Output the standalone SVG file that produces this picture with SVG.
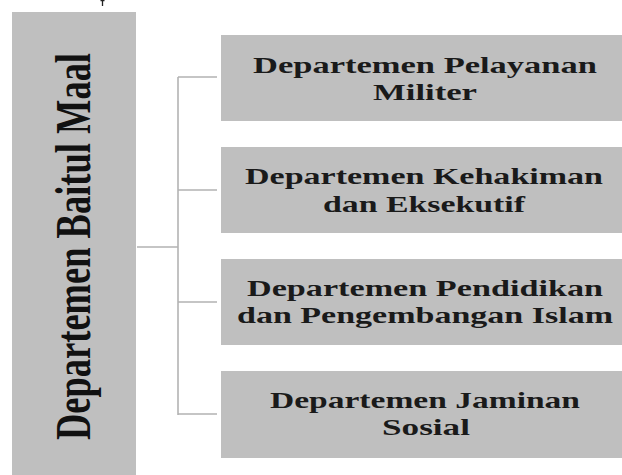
<svg xmlns="http://www.w3.org/2000/svg" width="622" height="475" viewBox="0 0 622 475">
<style>
.box{fill:#bfbfbf;}
.lbl{font-family:"Liberation Serif","Times New Roman",serif;font-weight:bold;font-size:24px;fill:#1a1a1a;text-anchor:middle;}
.main{font-family:"Liberation Serif","Times New Roman",serif;font-weight:bold;font-size:50px;fill:#111;text-anchor:middle;}
.conn{stroke:#b3b3b3;stroke-width:1.6;fill:none;}
</style>
<rect width="622" height="475" fill="#ffffff"/>
<path d="M100.5 0.5 H104.5 M102.5 0 V6" stroke="#222" stroke-width="1.3" fill="none"/>
<g id="main-node">
<rect class="box" x="12" y="12" width="124" height="470" fill="#bcbcbc"/>
<text class="main" transform="translate(90 246.5) rotate(-90)" x="0" y="0" textLength="387" lengthAdjust="spacingAndGlyphs">Departemen Baitul Maal</text>
</g>
<g id="connectors">
<path class="conn" d="M137 247 H178 M178 77 V415 M178 77 H217 M178 190 H217 M178 302 H217 M178 414 H217"/>
</g>
<g id="node-1">
<rect class="box" x="221" y="35" width="410" height="86"/>
<text class="lbl" x="425" y="73" textLength="344" lengthAdjust="spacingAndGlyphs">Departemen Pelayanan</text>
<text class="lbl" x="425" y="100" textLength="104" lengthAdjust="spacingAndGlyphs">Militer</text>
</g>
<g id="node-2">
<rect class="box" x="221" y="147" width="410" height="86"/>
<text class="lbl" x="424" y="184" textLength="358" lengthAdjust="spacingAndGlyphs">Departemen Kehakiman</text>
<text class="lbl" x="424" y="212" textLength="202" lengthAdjust="spacingAndGlyphs">dan Eksekutif</text>
</g>
<g id="node-3">
<rect class="box" x="221" y="259" width="410" height="86"/>
<text class="lbl" x="425" y="296" textLength="356" lengthAdjust="spacingAndGlyphs">Departemen Pendidikan</text>
<text class="lbl" x="425" y="323" textLength="376" lengthAdjust="spacingAndGlyphs">dan Pengembangan Islam</text>
</g>
<g id="node-4">
<rect class="box" x="221" y="371" width="410" height="87"/>
<text class="lbl" x="425" y="408" textLength="310" lengthAdjust="spacingAndGlyphs">Departemen Jaminan</text>
<text class="lbl" x="426" y="435" textLength="88" lengthAdjust="spacingAndGlyphs">Sosial</text>
</g>
</svg>
